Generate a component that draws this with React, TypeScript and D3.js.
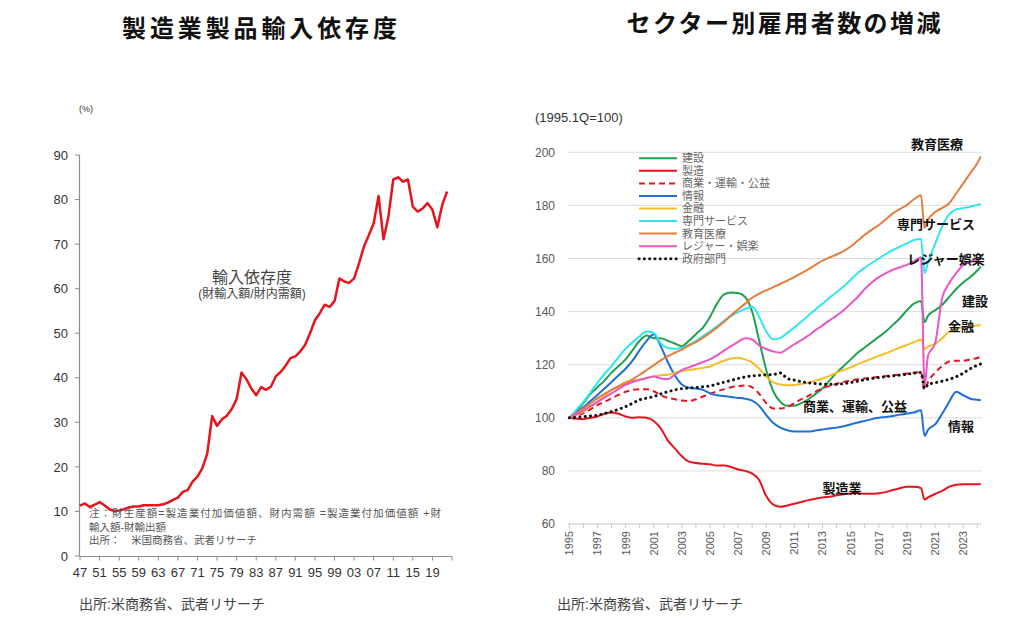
import React from "react";
import * as d3 from "d3";

// ---------------- Left chart data ----------------
const LEFT_YEARS = [
  1947, 1948, 1949, 1950, 1951, 1952, 1953, 1954, 1955, 1956, 1957, 1958, 1959,
  1960, 1961, 1962, 1963, 1964, 1965, 1966, 1967, 1968, 1969, 1970, 1971, 1972,
  1973, 1974, 1975, 1976, 1977, 1978, 1979, 1980, 1981, 1982, 1983, 1984, 1985,
  1986, 1987, 1988, 1989, 1990, 1991, 1992, 1993, 1994, 1995, 1996, 1997, 1998,
  1999, 2000, 2001, 2002, 2003, 2004, 2005, 2006, 2007, 2008, 2009, 2010, 2011,
  2012, 2013, 2014, 2015, 2016, 2017, 2018, 2019, 2020, 2021, 2022,
];
const IMPORT_DEPENDENCE = [
  11.3, 11.8, 11.0, 11.5, 12.1, 11.4, 10.5, 10.1, 10.2, 10.5, 10.9, 11.1, 11.1,
  11.4, 11.4, 11.4, 11.4, 11.6, 12.0, 12.6, 13.1, 14.4, 14.8, 16.7, 17.8, 19.7,
  23.0, 31.4, 29.2, 30.7, 31.5, 33.0, 35.2, 41.2, 39.7, 37.6, 36.1, 37.9, 37.3,
  38.0, 40.3, 41.3, 42.7, 44.4, 44.8, 45.9, 47.4, 50.0, 52.9, 54.5, 56.4, 55.9,
  57.2, 62.3, 61.6, 61.3, 62.3, 65.7, 69.4, 72.0, 74.7, 80.8, 71.1, 76.1, 84.5,
  85.0, 84.0, 84.5, 78.4, 77.3, 78.0, 79.2, 77.7, 73.8, 78.8, 81.8,
];
const LEFT_Y_TICKS = [0, 10, 20, 30, 40, 50, 60, 70, 80, 90];
const LEFT_X_TICKS = [
  1947, 1951, 1955, 1959, 1963, 1967, 1971, 1975, 1979, 1983, 1987, 1991, 1995,
  1999, 2003, 2007, 2011, 2015, 2019, 2023,
];
const LEFT_X_LABELS = [
  "47", "51", "55", "59", "63", "67", "71", "75", "79", "83", "87", "91", "95",
  "99", "03", "07", "11", "15", "19", "",
];

// ---------------- Right chart data ----------------
const RIGHT_T = [
  1995.0, 1995.5, 1996.0, 1996.5, 1997.0, 1997.5, 1998.0, 1998.5, 1999.0, 1999.5,
  2000.0, 2000.5, 2001.0, 2001.5, 2002.0, 2002.5, 2003.0, 2003.5, 2004.0, 2004.5,
  2005.0, 2005.5, 2006.0, 2006.5, 2007.0, 2007.5, 2008.0, 2008.5, 2009.0, 2009.5,
  2010.0, 2010.5, 2011.0, 2011.5, 2012.0, 2012.5, 2013.0, 2013.5, 2014.0, 2014.5,
  2015.0, 2015.5, 2016.0, 2016.5, 2017.0, 2017.5, 2018.0, 2018.5, 2019.0, 2019.5,
  2020.0, 2020.25, 2020.5, 2021.0, 2021.5, 2022.0, 2022.5, 2023.0, 2023.5, 2024.0,
  2024.25,
];
const CONSTRUCTION = [
  100, 102.5, 105.5, 109, 111.5, 114, 117, 119.5, 122, 125.5,
  129, 131, 130, 130, 129, 128, 127, 129, 131.5, 134,
  138, 143, 146.5, 147.2, 147, 145.5, 140, 129, 118, 110,
  106, 104.5, 104.5, 105.5, 107, 109, 111, 114, 117, 119.5,
  122, 124.5, 126.5, 128.5, 130.5, 132.5, 135, 137.5, 140.5, 143,
  144, 136, 138.5, 140.5, 142.5, 145.5, 148.5, 151, 153, 155.5,
  157,
];
const MANUFACTURING = [
  100, 99.6, 99.5, 100, 100.5, 101.5, 102, 101.5, 100.5, 100,
  100.2, 100, 98.8, 96, 91.5, 88.5, 85.5, 83.5, 83, 82.7,
  82.5, 82, 82, 81.5, 80.5, 80, 79, 76.5, 70.5, 67.3,
  66.5, 67, 67.6, 68.3, 69, 69.5, 70, 70.3, 70.8, 71.2,
  71.5, 71.6, 71.4, 71.4, 71.6, 72, 72.8, 73.5, 74, 74,
  73.5, 69.2, 70, 71.3, 72.5, 74, 74.8, 75, 75, 75,
  75,
];
const TRADE_TRANSPORT = [
  100, 100.8, 101.7, 103.2, 104.8, 106, 107.3, 108.6, 109.8, 110.5,
  110.8, 110.8, 110, 108.5, 107.5, 107, 106.5, 106.3, 107, 108,
  109, 110, 110.7, 111.5, 112, 112.2, 111.5, 109, 105.5, 103.5,
  103.5, 104.2, 105.5, 107, 108.3, 109.8, 111.2, 112, 112.8, 113.5,
  114, 114.5, 114.8, 115.1, 115.4, 115.7, 116, 116.3, 116.7, 117,
  117.2, 110.5, 113.5, 117, 119.5, 121.2, 121.5, 121.5, 122, 122.5,
  123,
];
const INFORMATION = [
  100, 102, 104, 106.3, 108.6, 111, 113.5, 116, 118.5, 121.5,
  125.5, 129, 131.5, 127, 121, 116, 112.5, 111.3, 111, 110.5,
  109.2, 108.5, 108.2, 107.8, 107.5, 107.2, 106.5, 104.5, 101, 98,
  96.3, 95.3, 94.8, 94.8, 94.8, 95.2, 95.6, 96, 96.3, 96.8,
  97.5, 98.2, 98.8, 99.5, 100, 100.3, 100.7, 101.2, 101.6, 102,
  102.8, 93.2, 95.5, 97.5, 101.5, 106, 109.8, 108.5, 107.2, 106.8,
  106.6,
];
const FINANCE = [
  100, 101, 102.3, 104, 106, 108.3, 110.5, 112, 113.5, 114,
  114.3, 115, 115.6, 116, 116.2, 117, 117.6, 118, 118.4, 118.8,
  119.3, 120.5, 121.5, 122.3, 122.6, 122, 120.8, 118.5, 115.5, 113.3,
  112.5, 112.3, 112.4, 112.8, 113.2, 114, 114.8, 115.8, 117, 118,
  119, 120.2, 121.2, 122.3, 123.3, 124.3, 125.4, 126.5, 127.4, 128.5,
  129.5, 125.8, 126.8, 127.8, 130, 132.5, 133.5, 134.2, 134.5, 134.8,
  135,
];
const PROFESSIONAL = [
  100, 103, 106, 109.5, 113.2, 116.5, 119.5, 122.8, 126, 128.5,
  130.7, 132.5, 132, 128, 126.3, 126, 126.3, 127.5, 129, 130.8,
  132.5, 134.5, 136.5, 138.3, 139.8, 141, 141.8, 138, 132.5, 129.6,
  130, 132, 134, 136.3, 138.5, 140.8, 143, 145.2, 147.3, 149.5,
  152, 154.5, 156.5, 158.3, 160, 161.7, 163.2, 164.5, 165.7, 167,
  167.3, 154.5, 158.5, 165.5, 172, 176.5, 178.5, 179, 179.5, 180.2,
  180.5,
];
const EDUCATION_HEALTH = [
  100, 101.8, 103.5, 105.4, 107.3, 109, 110.5, 111.8, 113, 114.5,
  116.2, 118, 119.8, 121.6, 123.2, 124.5, 125.7, 127.2, 128.5, 130.2,
  132, 134, 136.2, 138.6, 140.8, 143, 145.2, 146.8, 148, 149.2,
  150.4, 151.7, 153, 154.5, 156, 157.6, 159.2, 160.4, 161.5, 162.8,
  164.5, 166.7, 168.9, 170.8, 172.6, 174.8, 177, 178.6, 180.2, 182.3,
  183.8, 171.5, 174.5, 177.5, 179, 180.8, 184.5, 188.3, 192.1, 195.9,
  198.4,
];
const LEISURE = [
  100, 101.3, 102.7, 104.4, 106, 107.6, 109.2, 110.8, 112.4, 113.5,
  114.3, 115, 115.6, 114.8, 114.5, 116.2, 118, 119, 120, 121,
  122, 123.5, 125.3, 127, 128.6, 130, 129.5, 127.3, 125.9, 125,
  124.5, 126, 127.7, 129.3, 131, 133, 134.8, 136.7, 138.5, 140.5,
  143, 145.5, 148.5, 151, 153, 154.5, 155.7, 156.7, 157.6, 159,
  160.5, 112, 123.5, 128, 145, 150.7, 154.5, 157.6, 158.8, 159.5,
  160,
];
const GOVERNMENT = [
  100, 100.2, 100.4, 100.7, 101, 101.6, 102.3, 103.2, 104.2, 105.5,
  106.8, 107.4, 108, 109, 109.8, 110.5, 111, 111.2, 111.4, 111.7,
  112, 112.7, 113.4, 114.1, 114.8, 115.4, 115.8, 116, 116.2, 116.3,
  116.9, 114.8, 114.2, 113.6, 113.2, 112.9, 112.7, 112.6, 112.6, 112.9,
  113.3, 113.8, 114.3, 114.8, 115.2, 115.5, 115.8, 116.1, 116.4, 116.8,
  117.1, 111, 112.5, 113.2, 113.8, 114.5, 115.5, 116.8, 118.5, 119.8,
  120.3,
];
const RIGHT_Y_TICKS = [60, 80, 100, 120, 140, 160, 180, 200];
const RIGHT_X_YEARS = [
  1995, 1996, 1997, 1998, 1999, 2000, 2001, 2002, 2003, 2004, 2005, 2006, 2007,
  2008, 2009, 2010, 2011, 2012, 2013, 2014, 2015, 2016, 2017, 2018, 2019, 2020,
  2021, 2022, 2023, 2024,
];
const RIGHT_X_LABELS = [
  "1995", "1997", "1999", "2001", "2003", "2005", "2007", "2009", "2011", "2013",
  "2015", "2017", "2019", "2021", "2023",
];

const SERIES_NAMES = [
  "建設", "製造", "商業・運輸・公益", "情報", "金融", "専門サービス", "教育医療",
  "レジャー・娯楽", "政府部門",
];
const SERIES_VALUES = [
  CONSTRUCTION, MANUFACTURING, TRADE_TRANSPORT, INFORMATION, FINANCE,
  PROFESSIONAL, EDUCATION_HEALTH, LEISURE, GOVERNMENT,
];
const SERIES_COLORS = [
  "#1fa04e", "#e5151d", "#e5151d", "#1e6fd9", "#f6bd2b", "#2ee6ee", "#e57c3c",
  "#e956c5", "#111111",
];
const SERIES_DASH = ["", "", "6 4", "", "", "", "", "", "0.1 5.2"];

const DIRECT_LABELS = [
  { text: "教育医療", x: 937, y: 149 },
  { text: "専門サービス", x: 936, y: 229 },
  { text: "レジャー娯楽", x: 946, y: 264 },
  { text: "建設", x: 975, y: 306 },
  { text: "金融", x: 961, y: 331 },
  { text: "商業、運輸、公益", x: 855, y: 411 },
  { text: "情報", x: 961, y: 431 },
  { text: "製造業", x: 842, y: 493 },
];

const JP = "'Liberation Sans', 'Noto Sans CJK JP', Arial, sans-serif";

function LeftChart() {
  const x = d3.scaleLinear().domain([1947, 2023]).range([80, 452]);
  const y = d3.scaleLinear().domain([0, 90]).range([556, 155]);
  const line = d3
    .line<number>()
    .x((_, i) => x(LEFT_YEARS[i]))
    .y((d) => y(d));
  return (
    <g fontFamily={JP}>
      <text x={259.5} y={37} textAnchor="middle" fontSize={24} fontWeight="bold" textLength={275} lengthAdjust="spacing" fill="#111">
        製造業製品輸入依存度
      </text>
      <text x={79} y={112} fontSize={9} fill="#333">(%)</text>
      <line x1={79.5} x2={79.5} y1={155} y2={556} stroke="#8c8c8c" strokeWidth={1.2} />
      {LEFT_Y_TICKS.map((t) => (
        <g key={t}>
          <line x1={75} x2={79.5} y1={y(t)} y2={y(t)} stroke="#8c8c8c" />
          <text x={68} y={y(t)} dy="0.36em" textAnchor="end" fontSize={13} fill="#333">{t}</text>
        </g>
      ))}
      <line x1={79.5} x2={452} y1={556.5} y2={556.5} stroke="#8c8c8c" strokeWidth={1.2} />
      {LEFT_X_TICKS.map((t, i) => (
        <g key={t}>
          <line x1={x(t)} x2={x(t)} y1={556.5} y2={560.5} stroke="#8c8c8c" />
          <text x={x(t)} y={577} textAnchor="middle" fontSize={13} fill="#333">{LEFT_X_LABELS[i]}</text>
        </g>
      ))}
      <path d={line(IMPORT_DEPENDENCE) || ""} fill="none" stroke="#e5151d" strokeWidth={2.5} strokeLinejoin="round" />
      <text x={252} y={283} textAnchor="middle" fontSize={16} fill="#444">輸入依存度</text>
      <text x={252} y={298} textAnchor="middle" fontSize={12} fill="#444">(財輸入額/財内需額)</text>
      <text x={89} y={517} fontSize={10.5} fill="#555" textLength={352} lengthAdjust="spacing">注：財生産額=製造業付加価値額、財内需額 =製造業付加価値額 +財</text>
      <text x={89} y={531} fontSize={10.5} fill="#555">輸入額-財輸出額</text>
      <text x={89} y={544} fontSize={10.5} fill="#555">出所：　米国商務省、武者リサーチ</text>
      <text x={79} y={609} fontSize={14} fill="#444">出所:米商務省、武者リサーチ</text>
    </g>
  );
}

function RightChart() {
  const x = d3.scaleLinear().domain([1995, 2024.3]).range([569.3, 981.5]);
  const y = d3.scaleLinear().domain([60, 200]).range([524, 152.3]);
  const line = d3
    .line<number>()
    .x((_, i) => x(RIGHT_T[i]))
    .y((d) => y(d))
    .curve(d3.curveMonotoneX);
  const legendY = (i: number) => 158.3 + i * 12.55;
  return (
    <g fontFamily={JP}>
      <text x={783.5} y={32} textAnchor="middle" fontSize={24} fontWeight="bold" textLength={314} lengthAdjust="spacing" fill="#111">
        セクター別雇用者数の増減
      </text>
      <text x={535} y={122} fontSize={13} fill="#333">(1995.1Q=100)</text>
      {RIGHT_Y_TICKS.map((t) => (
        <g key={t}>
          <line x1={568} x2={982} y1={y(t)} y2={y(t)} stroke={t === 60 ? "#c8c8c8" : "#dcdcdc"} strokeWidth={1} />
          <text x={555} y={y(t)} dy="0.36em" textAnchor="end" fontSize={12} fill="#595959">{t}</text>
        </g>
      ))}
      {RIGHT_X_YEARS.map((t) => (
        <line key={t} x1={x(t)} x2={x(t)} y1={524} y2={528} stroke="#c8c8c8" />
      ))}
      {RIGHT_X_LABELS.map((l) => (
        <text key={l} transform={`translate(${x(+l)},531) rotate(-90)`} dy="0.36em" textAnchor="end" fontSize={11} fill="#595959">{l}</text>
      ))}
      {SERIES_VALUES.map((vals, i) => (
        <path
          key={SERIES_NAMES[i]}
          d={line(vals) || ""}
          fill="none"
          stroke={SERIES_COLORS[i]}
          strokeWidth={i === 8 ? 3 : 2}
          strokeDasharray={SERIES_DASH[i] || undefined}
          strokeLinecap={i === 8 ? "round" : "butt"}
          strokeLinejoin="round"
        />
      ))}
      {SERIES_NAMES.map((n, i) => (
        <g key={n}>
          <line x1={639} x2={677} y1={legendY(i)} y2={legendY(i)} stroke={SERIES_COLORS[i]} strokeWidth={i === 8 ? 3 : 2} strokeDasharray={SERIES_DASH[i] || undefined} strokeLinecap={i === 8 ? "round" : "butt"} />
          <text x={682} y={legendY(i)} dy="0.36em" fontSize={11} fill="#666">{n}</text>
        </g>
      ))}
      {DIRECT_LABELS.map((d) => (
        <text key={d.text} x={d.x} y={d.y} textAnchor="middle" fontSize={13} fontWeight="bold" fill="#111">{d.text}</text>
      ))}
      <text x={557} y={609} fontSize={14} fill="#444">出所:米商務省、武者リサーチ</text>
    </g>
  );
}

export default function App() {
  return (
    <svg width={1024} height={625} style={{ position: "absolute", left: 0, top: 0, background: "#fff" }}>
      <rect width={1024} height={625} fill="#fff" />
      <LeftChart />
      <RightChart />
    </svg>
  );
}
